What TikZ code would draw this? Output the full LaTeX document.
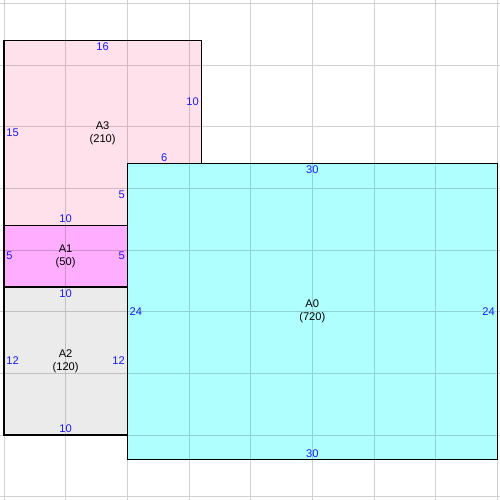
\documentclass[tikz,border=0pt]{standalone}
\usepackage{fontspec}
\setmainfont{Liberation Sans}
\definecolor{roomthree}{HTML}{FFE1EC}
\definecolor{roomone}{HTML}{FFAEFF}
\definecolor{roomtwo}{HTML}{EBEBEB}
\definecolor{roomzero}{HTML}{B0FFFF}
\definecolor{dimblue}{HTML}{1A1AFF}
\begin{document}
\begin{tikzpicture}[x=0.3cm, y=0.3cm,
	dim/.style = {text=dimblue, inner sep=1.5pt, font=\fontsize{7.7}{9}\selectfont},
	room/.style = {align=center, inner sep=0pt, font=\fontsize{7.7}{9}\selectfont},
	wall/.style = {draw, line width=0.9pt},
	gridline/.style = {draw=black!18, line width=0.6pt}]
				\useasboundingbox (-0.32,-5.27) rectangle (40.22,35.27);

				\fill[roomthree] (0,17) rectangle (16,32);
				\fill[roomone] (0,12) rectangle (10,17);
				\fill[roomtwo] (0,0) rectangle (10,12);
				\fill[roomzero] (10,-2) rectangle (40,22);
				\begin{scope}[blend mode=multiply]
				\draw[gridline] (-0.32,-5.27) grid[step=5] (40.22,35.27);
				\end{scope}

				\draw[wall] (10,17) -- (0,17) -- (0,32) -- (16,32) -- (16,22);
				\draw[wall] (0,12) rectangle (10,17);
				\draw[wall] (0,0) rectangle (10,12);
				\draw[wall] (10,-2) rectangle (40,22);

				\node[room] (a3) at (8,24.5) {A3\\(210)};
				\node[dim, anchor=north] (a3top) at (8,32) {16};
				\node[dim, anchor=west] (a3left) at (0,24.5) {15};
				\node[dim, anchor=east] (a3right) at (16,27) {10};
				\node[dim, anchor=south] (a3step) at (13,22) {6};
				\node[dim, anchor=east] (a3inner) at (10,19.5) {5};
				\node[dim, anchor=south] (a3bottom) at (5,17) {10};

				\node[room] (a1) at (5,14.5) {A1\\(50)};
				\node[dim, anchor=west] (a1left) at (0,14.5) {5};
				\node[dim, anchor=east] (a1right) at (10,14.5) {5};

				\node[room] (a2) at (5,6) {A2\\(120)};
				\node[dim, anchor=north] (a2top) at (5,12) {10};
				\node[dim, anchor=west] (a2left) at (0,6) {12};
				\node[dim, anchor=east] (a2right) at (10,6) {12};
				\node[dim, anchor=south] (a2bottom) at (5,0) {10};

				\node[room] (a0) at (25,10) {A0\\(720)};
				\node[dim, anchor=north] (a0top) at (25,22) {30};
				\node[dim, anchor=west] (a0left) at (10,10) {24};
				\node[dim, anchor=east] (a0right) at (40,10) {24};
				\node[dim, anchor=south] (a0bottom) at (25,-2) {30};

			\end{tikzpicture}
\end{document}
